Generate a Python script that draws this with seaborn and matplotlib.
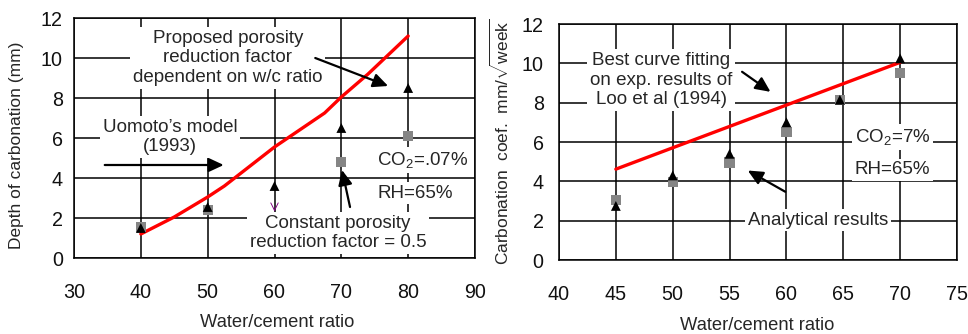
import matplotlib
matplotlib.use("Agg")
import matplotlib.pyplot as plt
import seaborn as sns

# ---------------- data: left chart ----------------
wc_left_tri = [40, 50, 60, 70, 80]
depth_tri = [1.5, 2.55, 3.6, 6.5, 8.5]
wc_left_sq = [40, 50, 70, 80]
depth_sq = [1.55, 2.4, 4.8, 6.1]
wc_left_purple = [60]
depth_purple = [2.55]
wc_left_curve = [40, 45, 50, 52.5, 60, 67.5, 70, 74, 80]
depth_curve = [1.2, 2.05, 3.05, 3.6, 5.55, 7.25, 8.05, 9.2, 11.1]
left_xticks = [30, 40, 50, 60, 70, 80, 90]
left_yticks = [0, 2, 4, 6, 8, 10, 12]

# ---------------- data: right chart ----------------
wc_right_tri = [45, 50, 55, 60, 64.7, 70]
coef_tri = [2.75, 4.3, 5.4, 7.0, 8.15, 10.25]
wc_right_sq = [45, 50, 55, 60, 64.7, 70]
coef_sq = [3.05, 3.97, 4.96, 6.5, 8.13, 9.5]
wc_fit = [45, 70]
coef_fit = [4.62, 10.05]
right_xticks = [40, 45, 50, 55, 60, 65, 70, 75]
right_yticks = [0, 2, 4, 6, 8, 10, 12]

sns.set_style("white")
plt.rcParams['font.family'] = ['Liberation Sans', 'DejaVu Sans']
plt.rcParams['mathtext.fontset'] = 'custom'
plt.rcParams['mathtext.rm'] = 'Liberation Sans'
plt.rcParams['mathtext.it'] = 'Liberation Sans'
plt.rcParams['mathtext.default'] = 'regular'

fig = plt.figure(figsize=(9.68, 3.34), dpi=100)
axL = fig.add_axes([74/968, 1-258/334, (475-74)/968, (258-18)/334])
axR = fig.add_axes([559/968, 1-260/334, (957-559)/968, (260-24)/334])

FS = 13.5
TFS = 14.2
LFS = 13.2
box = dict(boxstyle='square,pad=0.15', fc='white', ec='none')
arrow = dict(arrowstyle='-|>,head_length=0.9,head_width=0.42', color='black', lw=1.6,
             shrinkA=0, shrinkB=0)


def style(ax, xt, yt, ypad):
    ax.set_xlim(xt[0], xt[-1])
    ax.set_ylim(yt[0], yt[-1])
    ax.set_xticks(xt)
    ax.set_yticks(yt)
    ax.set_axisbelow(True)
    ax.grid(True, color='black', lw=1.1)
    for s in ax.spines.values():
        s.set_visible(True)
        s.set_color('black')
        s.set_linewidth(1.1)
    ax.tick_params(axis='both', direction='out', length=3, width=1, color='black',
                   labelsize=TFS, labelcolor='#111111')
    ax.tick_params(axis='x', pad=15)
    ax.tick_params(axis='y', pad=ypad)


# ---------------- left ----------------
ax = axL
sns.lineplot(x=wc_left_curve, y=depth_curve, ax=ax, color='red', lw=2.4,
             sort=False, estimator=None, zorder=3)
sns.scatterplot(x=wc_left_sq, y=depth_sq, ax=ax, marker='s', color='#858585',
                s=55, edgecolor='none', zorder=4)
sns.scatterplot(x=wc_left_tri, y=depth_tri, ax=ax, marker='^', color='black',
                s=50, edgecolor='none', zorder=5)
sns.scatterplot(x=wc_left_purple, y=depth_purple, ax=ax, marker=r'$\vee$',
                color='#800080', s=40, edgecolor='none', zorder=5)
style(ax, left_xticks, left_yticks, 5)
ax.set_xlabel('Water/cement ratio', fontsize=LFS)
ax.set_ylabel('Depth of carbonation (mm)', fontsize=12.5)
ax.xaxis.set_label_coords(0.506, -0.232)
ax.yaxis.set_label_coords(-0.125, 0.47)

ax.text(53.0, 10.0, 'Proposed porosity\nreduction factor\ndependent on w/c ratio',
        ha='center', va='center', fontsize=FS, linespacing=1.2, bbox=box, zorder=2)
ax.annotate('', xy=(77.0, 8.6), xytext=(66.1, 10.0), arrowprops=arrow, zorder=6)
ax.text(44.4, 6.05, 'Uomoto\u2019s model\n(1993)', ha='center', va='center',
        fontsize=FS, linespacing=1.2, bbox=box, zorder=2)
ax.annotate('', xy=(52.4, 4.65), xytext=(34.6, 4.65), arrowprops=arrow, zorder=6)
ax.text(75.35, 4.9, 'CO$_2$=.07%', ha='left', va='center', fontsize=FS, bbox=box, zorder=2)
ax.text(75.35, 3.25, 'RH=65%', ha='left', va='center', fontsize=FS, bbox=box, zorder=2)
ax.text(69.5, 1.25, 'Constant porosity\nreduction factor = 0.5', ha='center', va='center',
        fontsize=FS, linespacing=1.2, bbox=box, zorder=2)
ax.annotate('', xy=(70.1, 4.4), xytext=(71.3, 2.55), arrowprops=arrow, zorder=6)

# ---------------- right ----------------
ax = axR
sns.lineplot(x=wc_fit, y=coef_fit, ax=ax, color='red', lw=2.4,
             sort=False, estimator=None, zorder=3)
sns.scatterplot(x=wc_right_sq, y=coef_sq, ax=ax, marker='s', color='#858585',
                s=55, edgecolor='none', zorder=4)
sns.scatterplot(x=wc_right_tri, y=coef_tri, ax=ax, marker='^', color='black',
                s=50, edgecolor='none', zorder=5)
style(ax, right_xticks, right_yticks, 8)
ax.set_xlabel('Water/cement ratio', fontsize=LFS)
ax.set_ylabel(r'Carbonation  coef.  mm/$\sqrt{\mathrm{week}}$', fontsize=12.5)
ax.xaxis.set_label_coords(0.497, -0.242)
ax.yaxis.set_label_coords(-0.117, 0.5)

ax.text(49.0, 9.15, 'Best curve fitting\non exp. results of\nLoo et al (1994)',
        ha='center', va='center', fontsize=FS, linespacing=1.2, bbox=box, zorder=2)
ax.annotate('', xy=(58.6, 8.55), xytext=(56.1, 9.57), arrowprops=arrow, zorder=6)
ax.text(66.0, 6.27, 'CO$_2$=7%', ha='left', va='center', fontsize=FS, bbox=box, zorder=2)
ax.text(66.0, 4.58, 'RH=65%', ha='left', va='center', fontsize=FS, bbox=box, zorder=2)
ax.text(62.8, 2.03, 'Analytical results', ha='center', va='center', fontsize=FS,
        bbox=box, zorder=2)
ax.annotate('', xy=(56.6, 4.55), xytext=(59.9, 3.47), arrowprops=arrow, zorder=6)

fig.savefig('out.png', dpi=100)
